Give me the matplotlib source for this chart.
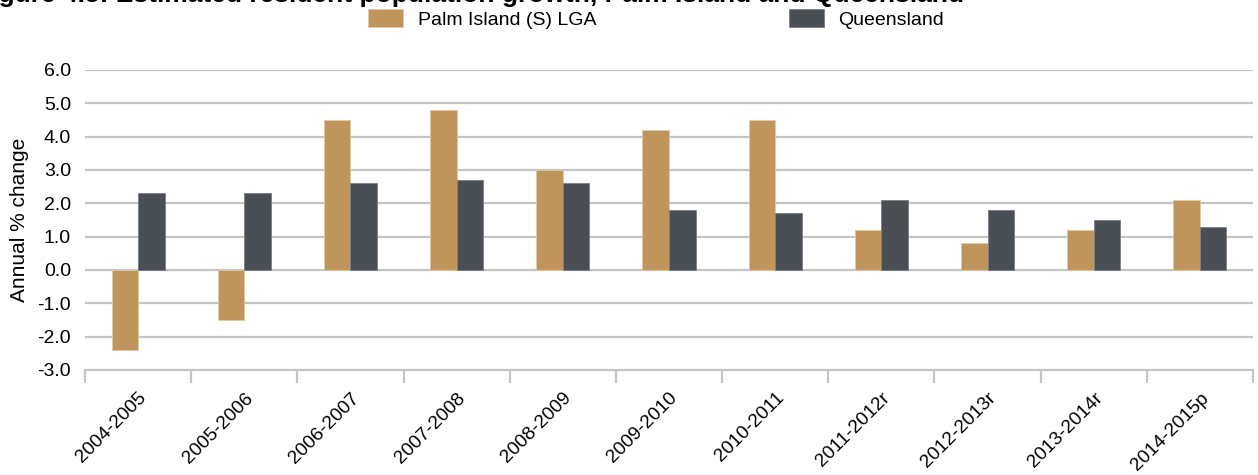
import numpy as np
import matplotlib
matplotlib.use("Agg")
from matplotlib import pyplot as plt

plt.rcParams['font.family'] = ['Liberation Sans', 'DejaVu Sans']

years = ['2004-2005', '2005-2006', '2006-2007', '2007-2008', '2008-2009',
         '2009-2010', '2010-2011', '2011-2012r', '2012-2013r', '2013-2014r',
         '2014-2015p']
palm_island = [-2.4, -1.5, 4.5, 4.8, 3.0, 4.2, 4.5, 1.2, 0.8, 1.2, 2.1]
queensland = [2.3, 2.3, 2.6, 2.7, 2.6, 1.8, 1.7, 2.1, 1.8, 1.5, 1.3]
y_ticks = [-3.0, -2.0, -1.0, 0.0, 1.0, 2.0, 3.0, 4.0, 5.0, 6.0]

palm_color = '#bf955c'
qld_color = '#4a4f56'
grid_color = '#c4c4c4'

fig = plt.figure(figsize=(12.58, 4.75), dpi=100)
ax = fig.add_axes([85 / 1258, 1 - 370 / 475, 1168 / 1258, 300 / 475])

x = np.arange(len(years))
w = 0.25
ax.bar(x - w / 2, palm_island, w, color=palm_color, edgecolor='#e0c9a6',
       linewidth=0.6, label='Palm Island (S) LGA', zorder=3)
ax.bar(x + w / 2, queensland, w, color=qld_color, edgecolor='#7a7e84',
       linewidth=0.6, label='Queensland', zorder=3)

ax.set_xlim(-0.5, len(years) - 0.5)
ax.set_ylim(-3.0, 6.0)
ax.set_yticks(y_ticks)
ax.set_yticklabels(['%.1f' % v for v in y_ticks], fontsize=14)
ax.tick_params(axis='y', length=0, pad=10)
for v in y_ticks[1:]:
    ax.axhline(v, color=grid_color, linewidth=1.6, zorder=1)

# category ticks between groups
ax.set_xticks(x)
ax.set_xticklabels(years, rotation=45, ha='right', va='top',
                   rotation_mode='anchor', fontsize=13.8)
ax.set_xticks(np.arange(len(years) + 1) - 0.5, minor=True)
ax.tick_params(axis='x', which='major', length=0, pad=14)
ax.tick_params(axis='x', which='minor', length=9, width=1.6, color=grid_color)

for s in ['top', 'right', 'left']:
    ax.spines[s].set_visible(False)
ax.spines['bottom'].set_color(grid_color)
ax.spines['bottom'].set_linewidth(1.6)

ax.set_ylabel('Annual % change', fontsize=15, labelpad=6)

fig.legend(loc='center', bbox_to_anchor=(656 / 1258, 1 - 19 / 475), ncol=2,
           frameon=False, fontsize=14, handlelength=1.8, handleheight=1.03,
           handletextpad=0.77, columnspacing=9.9)

fig.text(-25 / 1258, 1 - 2 / 475,
         'Figure 4.5: Estimated resident population growth, Palm Island and Queensland',
         fontsize=19, fontweight='bold', ha='left', va='baseline')

fig.savefig('out.png', dpi=100)
